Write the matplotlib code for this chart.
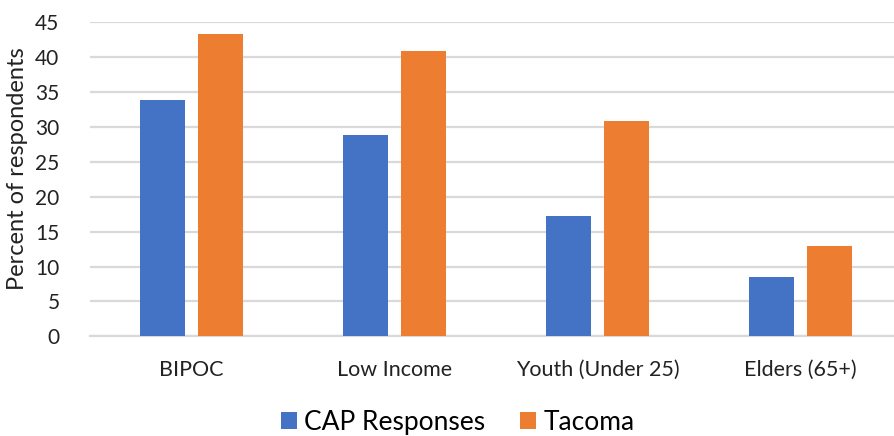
import numpy as np
import matplotlib.pyplot as plt

plt.rcParams['font.family'] = ['Lato', 'DejaVu Sans']

# groups and percentages
groups = ['BIPOC', 'Low Income', 'Youth (Under 25)', 'Elders (65+)']
cap_responses = [33.8, 28.8, 17.3, 8.5]
tacoma = [43.3, 40.9, 30.8, 12.9]

x = np.arange(len(groups))
width = 0.222
offset = 0.143

fig = plt.figure(figsize=(8.94, 4.36), dpi=100)
ax = fig.add_axes([0.1007, 0.2287, 0.908, 0.7202])

ax.bar(x - offset, cap_responses, width, color='#4472C4', label='CAP Responses', zorder=3)
ax.bar(x + offset, tacoma, width, color='#ED7D31', label='Tacoma', zorder=3)

ax.set_xlim(-0.5, 3.5)
ax.set_ylim(0, 45)
ax.set_yticks(np.arange(0, 50, 5))
ax.set_xticks(x)
ax.set_xticklabels(groups, fontsize=15.5)
ax.tick_params(axis='both', length=0, colors='#222222')
ax.tick_params(axis='y', labelsize=15, pad=22)
ax.tick_params(axis='x', pad=17)

ax.grid(axis='y', color='#d9d9d9', linewidth=1.6, zorder=0)
for s in ['top', 'right', 'left']:
    ax.spines[s].set_visible(False)
ax.spines['bottom'].set_color('#d9d9d9')
ax.spines['bottom'].set_linewidth(1.6)

ax.set_ylabel('Percent of respondents', fontsize=17, color='#222222')
ax.yaxis.set_label_coords(-0.076, 0.535)

fig.legend(loc='lower center', bbox_to_anchor=(0.512, -0.052), ncol=2, frameon=False,
           fontsize=19, handlelength=0.6, handleheight=0.6, handletextpad=0.3,
           columnspacing=1.3)

fig.savefig('out.png', dpi=100)
